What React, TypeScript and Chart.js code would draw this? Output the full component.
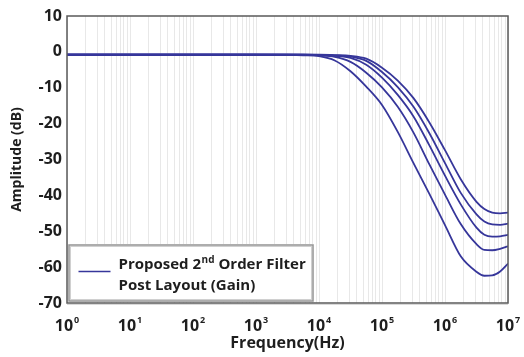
import React, { useEffect, useRef } from "react";
import { Chart, registerables } from "chart.js";

Chart.register(...registerables);

// Frequencies (Hz) at which the curves were read
const freqs = [1, 1000, 3162, 5623, 10000, 17783, 31623, 56234, 100000, 177828, 316228, 562341, 1000000, 1778279, 3162278, 4216965, 5623413, 7498942, 10000000];

// Gain (dB) of the five curves, top to bottom
const curve1 = [-0.8, -0.8, -0.8, -0.8, -0.8, -0.9, -1.1, -1.9, -4.4, -8, -12.9, -19.6, -27.4, -35.5, -41.8, -43.8, -44.8, -45, -44.8];
const curve2 = [-0.8, -0.8, -0.8, -0.8, -0.85, -1.0, -1.3, -2.5, -5.6, -9.8, -15.3, -22.6, -31, -39.3, -45.3, -47.3, -48.1, -48.2, -47.9];
const curve3 = [-0.8, -0.8, -0.8, -0.8, -0.9, -1.1, -1.7, -3.6, -7.2, -12, -18, -26, -34.5, -42.5, -49, -51, -51.5, -51.4, -51];
const curve4 = [-0.8, -0.8, -0.8, -0.85, -1.0, -1.4, -2.8, -5.8, -9.9, -15.3, -22.5, -31.3, -39.8, -48, -53.6, -55.2, -55.3, -54.9, -54.2];
const curve5 = [-0.8, -0.8, -0.85, -0.95, -1.2, -2.4, -5.4, -9.7, -14.8, -22.3, -31, -39.5, -48.3, -57, -61.3, -62.4, -62.3, -61.2, -59];

const series = [curve1, curve2, curve3, curve4, curve5];

const decadeExponents = [0, 1, 2, 3, 4, 5, 6, 7];
const yTicks = [10, 0, -10, -20, -30, -40, -50, -60, -70];

const legendLine1a = "Proposed 2";
const legendLine1sup = "nd";
const legendLine1b = " Order Filter";
const legendLine2 = "Post Layout (Gain)";

const LINE_COLOR = "#36369a";
const TEXT_COLOR = "#1e1e1e";
const FONT = "'Open Sans', 'DejaVu Sans', sans-serif";

export default function App() {
  const ref = useRef<HTMLCanvasElement | null>(null);

  useEffect(() => {
    document.body.style.margin = "0";
    const canvas = ref.current;
    if (!canvas) return;

    const xLabelPlugin = {
      id: "xLabels",
      afterDraw(chart: any) {
        const { ctx, chartArea } = chart;
        const xs = chart.scales.x;
        ctx.save();
        ctx.fillStyle = TEXT_COLOR;
        ctx.textBaseline = "alphabetic";
        const baseY = chartArea.bottom + 28;
        decadeExponents.forEach((e) => {
          const px = xs.getPixelForValue(Math.pow(10, e));
          ctx.font = `bold 16px ${FONT}`;
          const w1 = ctx.measureText("10").width;
          ctx.font = `bold 9px ${FONT}`;
          const sup = String(e);
          const w2 = ctx.measureText(sup).width;
          const total = w1 + 1 + w2;
          const start = px - total / 2;
          ctx.font = `bold 16px ${FONT}`;
          ctx.textAlign = "left";
          ctx.fillText("10", start, baseY);
          ctx.font = `bold 9px ${FONT}`;
          ctx.fillText(sup, start + w1 + 1, baseY - 8);
        });
        // frame
        ctx.strokeStyle = "#5a5a5a";
        ctx.lineWidth = 1.5;
        ctx.strokeRect(chartArea.left, chartArea.top, chartArea.right - chartArea.left, chartArea.bottom - chartArea.top);
        ctx.strokeStyle = "rgba(0,0,0,0.15)";
        ctx.lineWidth = 1;
        ctx.beginPath();
        ctx.moveTo(chartArea.left, chartArea.bottom + 1.5);
        ctx.lineTo(chartArea.right, chartArea.bottom + 1.5);
        ctx.stroke();
        ctx.restore();
      },
    };

    const legendPlugin = {
      id: "customLegend",
      afterDatasetsDraw(chart: any) {
        const { ctx, chartArea } = chart;
        const x0 = chartArea.left + 1.5;
        const y1 = chartArea.bottom - 1.5;
        const w = 245;
        const h = 57;
        const y0 = y1 - h;
        ctx.save();
        ctx.fillStyle = "#ffffff";
        ctx.fillRect(x0, y0, w, h);
        ctx.strokeStyle = "#d0d0d0";
        ctx.lineWidth = 3;
        ctx.strokeRect(x0 + 1, y0 + 1, w - 2, h - 2);
        ctx.strokeStyle = "#8a8a8a";
        ctx.lineWidth = 1;
        ctx.strokeRect(x0 + 0.5, y0 + 0.5, w - 1, h - 1);
        // sample line
        ctx.strokeStyle = LINE_COLOR;
        ctx.lineWidth = 1.6;
        ctx.beginPath();
        ctx.moveTo(x0 + 10, y0 + 27);
        ctx.lineTo(x0 + 42, y0 + 27);
        ctx.stroke();
        // texts
        ctx.fillStyle = TEXT_COLOR;
        ctx.textAlign = "left";
        ctx.textBaseline = "alphabetic";
        const tx = x0 + 50;
        const b1 = y0 + 24;
        const b2 = y0 + 45;
        ctx.font = `bold 15px ${FONT}`;
        ctx.fillText(legendLine1a, tx, b1);
        let cx = tx + ctx.measureText(legendLine1a).width + 0.5;
        ctx.font = `bold 10px ${FONT}`;
        ctx.fillText(legendLine1sup, cx, b1 - 6);
        cx += ctx.measureText(legendLine1sup).width;
        ctx.font = `bold 15px ${FONT}`;
        ctx.fillText(legendLine1b, cx, b1);
        ctx.fillText(legendLine2, tx, b2);
        ctx.restore();
      },
    };

    const chart = new Chart(canvas, {
      type: "line",
      data: {
        datasets: series.map((vals, i) => ({
          label: `curve${i + 1}`,
          data: freqs.map((f, j) => ({ x: f, y: vals[j] })),
          borderColor: LINE_COLOR,
          borderWidth: 1.8,
          pointRadius: 0,
          fill: false,
          cubicInterpolationMode: "monotone" as const,
        })),
      },
      options: {
        responsive: false,
        animation: false,
        events: [],
        layout: { padding: { left: 0, right: 16, top: 16, bottom: 0 } },
        plugins: {
          legend: { display: false },
          tooltip: { enabled: false },
        },
        scales: {
          x: {
            type: "logarithmic",
            min: 1,
            max: 1e7,
            afterBuildTicks(scale: any) {
              const t: any[] = [];
              for (let e = 0; e < 7; e++) {
                for (let m = 1; m <= 9; m++) t.push({ value: m * Math.pow(10, e) });
              }
              t.push({ value: 1e7 });
              scale.ticks = t;
            },
            afterFit(scale: any) {
              scale.height = 54;
            },
            ticks: { display: false, autoSkip: false },
            grid: { display: true, color: "rgba(0,0,0,0.09)", lineWidth: 1, drawTicks: false },
            border: { display: false },
            title: {
              display: true,
              text: "Frequency(Hz)",
              color: TEXT_COLOR,
              font: { family: FONT, size: 16, weight: "bold" },
              padding: { top: 0, bottom: 4 },
            },
          },
          y: {
            type: "linear",
            min: -70,
            max: 10,
            afterBuildTicks(scale: any) {
              scale.ticks = yTicks.map((v) => ({ value: v }));
            },
            afterFit(scale: any) {
              scale.width = 67;
            },
            ticks: {
              color: TEXT_COLOR,
              font: { family: FONT, size: 16, weight: "bold" },
              padding: 5,
            },
            grid: { display: false, drawTicks: false },
            border: { display: false },
            title: {
              display: true,
              text: "Amplitude (dB)",
              color: TEXT_COLOR,
              font: { family: FONT, size: 14, weight: "bold" },
              padding: { top: 9, bottom: 0 },
            },
          },
        },
      },
      plugins: [legendPlugin, xLabelPlugin],
    } as any);

    return () => chart.destroy();
  }, []);

  return (
    <div style={{ width: 524, height: 357, background: "#fff" }}>
      <canvas ref={ref} width={524} height={357} />
    </div>
  );
}
